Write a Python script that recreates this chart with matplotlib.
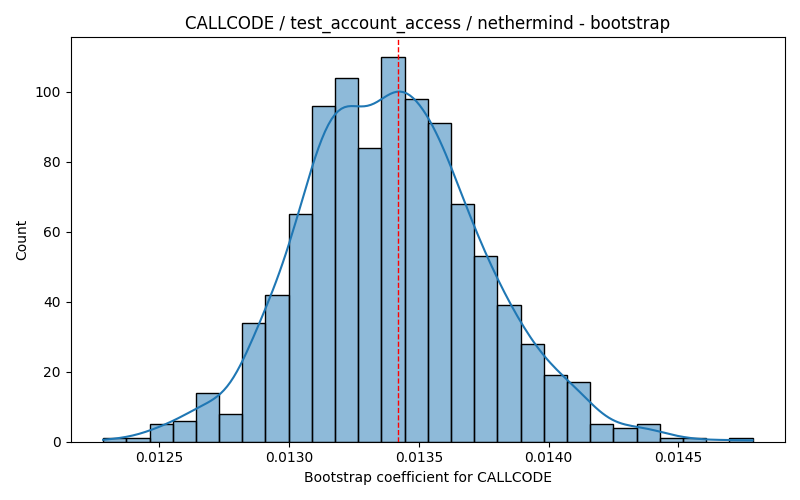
import numpy as np
import matplotlib
matplotlib.use('Agg')
import matplotlib.pyplot as plt

# Histogram (28 bins, 1000 bootstrap samples)
bin_start = 0.0122835
bin_end = 0.0147858
counts = [1, 1, 5, 6, 14, 8, 34, 42, 65, 96, 104, 84, 110, 98,
          91, 68, 53, 39, 28, 19, 17, 5, 4, 5, 1, 1, 0, 1]
marker_value = 0.013419  # red dashed reference line

title = 'CALLCODE / test_account_access / nethermind - bootstrap'
xlabel = 'Bootstrap coefficient for CALLCODE'
ylabel = 'Count'

counts = np.array(counts)
edges = np.linspace(bin_start, bin_end, len(counts) + 1)
bin_width = edges[1] - edges[0]
centers = 0.5 * (edges[:-1] + edges[1:])

# Gaussian KDE on the binned values (scott bandwidth), scaled to counts
bw_adjust = 0.95
n = counts.sum()
mean = np.sum(counts * centers) / n
std = np.sqrt(np.sum(counts * (centers - mean) ** 2) / (n - 1))
bw = bw_adjust * std * n ** (-1. / 5)
grid = np.linspace(bin_start, bin_end, 200)
dens = np.sum(counts[None, :] * np.exp(-0.5 * ((grid[:, None] - centers[None, :]) / bw) ** 2), axis=1)
dens = dens / (n * bw * np.sqrt(2 * np.pi))
kde_line = dens * n * bin_width

fig, ax = plt.subplots(figsize=(8, 5), dpi=100)
ax.bar(edges[:-1], counts, width=bin_width, align='edge',
       facecolor=(0.1216, 0.4667, 0.7059, 0.5), edgecolor='black', linewidth=1)
ax.plot(grid, kde_line, color='C0', linewidth=1.5)
ax.axvline(marker_value, color='red', linestyle='--', linewidth=1)

ax.set_xlim(bin_start - 0.05 * (bin_end - bin_start), bin_end + 0.05 * (bin_end - bin_start))
ax.set_ylim(0, counts.max() * 1.05)
ax.set_xticks([0.0125, 0.0130, 0.0135, 0.0140, 0.0145])
ax.set_title(title)
ax.set_xlabel(xlabel)
ax.set_ylabel(ylabel)

plt.tight_layout()
plt.savefig('out.png')
